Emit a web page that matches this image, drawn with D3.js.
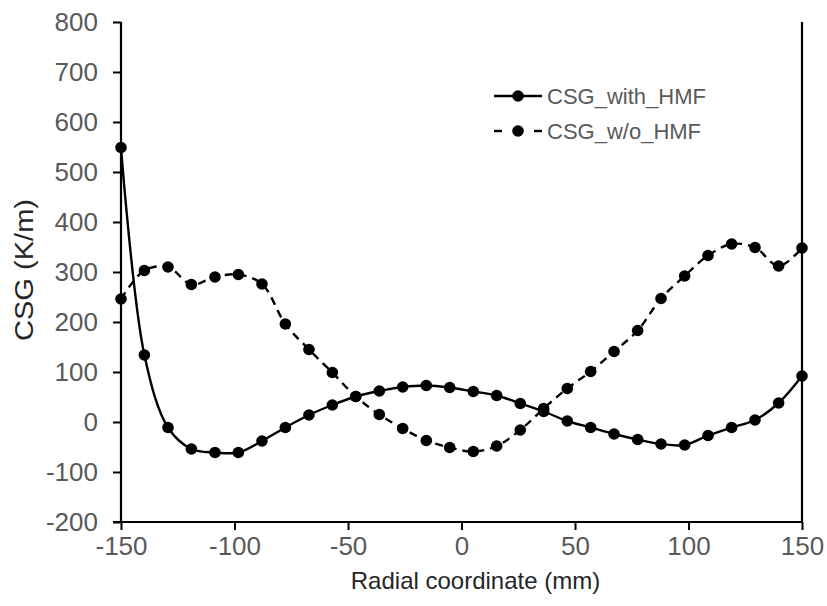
<!DOCTYPE html>
<html>
<head>
<meta charset="utf-8">
<script src="https://cdn.jsdelivr.net/npm/d3@7"></script>
<style>
  html, body { margin: 0; padding: 0; background: #fff; }
  svg { display: block; font-family: Arial, "Liberation Sans", sans-serif; }
</style>
</head>
<body>
<svg id="chart" width="827" height="606"></svg>
<script>
// Radial positions (mm)
const radial = [-150, -139.7, -129.3, -119.0, -108.6, -98.3, -87.9, -77.6, -67.2, -56.9,
                -46.6, -36.2, -25.9, -15.5, -5.2, 5.2, 15.5, 25.9, 36.2, 46.6,
                56.9, 67.2, 77.6, 87.9, 98.3, 108.6, 119.0, 129.3, 139.7, 150];

// CSG with HMF (K/m)
const csgWithHMF = [549, 134, -11, -54, -61, -61, -38, -11, 14, 34,
                    51, 62, 70, 73, 69, 61, 53, 37, 21, 2,
                    -11, -24, -35, -44, -46, -27, -11, 4, 38, 92];

// CSG without HMF (K/m)
const csgWithoutHMF = [246, 303, 310, 275, 290, 295, 276, 196, 145, 99,
                       51, 15, -13, -37, -51, -59, -48, -16, 27, 67,
                       101, 141, 183, 247, 292, 333, 356, 349, 312, 348];

const seriesNames = ["CSG_with_HMF", "CSG_w/o_HMF"];
const xTicks = [-150, -100, -50, 0, 50, 100, 150];
const yTicks = [-200, -100, 0, 100, 200, 300, 400, 500, 600, 700, 800];

const svg = d3.select("#chart");
const plotLeft = 121, plotRight = 802, plotTop = 22, plotBottom = 522;

const x = d3.scaleLinear().domain([-150, 150]).range([plotLeft, plotRight]);
const y = d3.scaleLinear().domain([-200, 800]).range([plotBottom, plotTop]);

const tickColor = "#595959";
const plainNumber = d => String(d);   // ASCII hyphen for negatives

// Y axis
const yAxis = svg.append("g")
  .attr("transform", `translate(${plotLeft},0)`)
  .call(d3.axisLeft(y).tickValues(yTicks).tickSize(8).tickPadding(15).tickFormat(plainNumber));
// X axis
const xAxis = svg.append("g")
  .attr("transform", `translate(0,${plotBottom})`)
  .call(d3.axisBottom(x).tickValues(xTicks).tickSize(8).tickPadding(7).tickFormat(plainNumber));

[yAxis, xAxis].forEach(g => {
  g.select(".domain").attr("stroke", "#000").attr("stroke-width", 2.2);
  g.selectAll(".tick line").attr("stroke", "#000").attr("stroke-width", 2);
  g.selectAll(".tick text")
    .attr("fill", tickColor)
    .style("font-size", "26px")
    .style("font-family", "Arial, 'Liberation Sans', sans-serif");
});
// plain domain lines without end stubs
yAxis.select(".domain").attr("d", `M0,${plotTop}V${plotBottom}`);
xAxis.select(".domain").attr("d", `M${plotLeft - 8},0H${plotRight}`);

// Right frame line
svg.append("line")
  .attr("x1", plotRight).attr("x2", plotRight)
  .attr("y1", plotTop).attr("y2", plotBottom)
  .attr("stroke", "#000").attr("stroke-width", 2.2);

// Axis titles
svg.append("text")
  .attr("x", (plotLeft + plotRight) / 2 + 14).attr("y", 589)
  .attr("text-anchor", "middle")
  .attr("fill", "#262626")
  .style("font-size", "24px")
  .text("Radial coordinate (mm)");

svg.append("text")
  .attr("transform", `translate(33,${(plotTop + plotBottom) / 2 - 2}) rotate(-90)`)
  .attr("text-anchor", "middle")
  .attr("fill", "#262626")
  .attr("textLength", 142)
  .attr("lengthAdjust", "spacingAndGlyphs")
  .style("font-size", "25px")
  .text("CSG (K/m)");

// Series
const line = d3.line()
  .x((d, i) => x(radial[i]))
  .y(d => y(d))
  .curve(d3.curveCatmullRom.alpha(0.5));

const series = [
  { name: seriesNames[0], values: csgWithHMF, dash: null },
  { name: seriesNames[1], values: csgWithoutHMF, dash: "8,6" }
];

series.forEach(s => {
  svg.append("path")
    .datum(s.values)
    .attr("fill", "none")
    .attr("stroke", "#000")
    .attr("stroke-width", 2.4)
    .attr("stroke-dasharray", s.dash)
    .attr("d", line);
  svg.append("g").selectAll("circle")
    .data(s.values)
    .join("circle")
    .attr("cx", (d, i) => x(radial[i]))
    .attr("cy", d => y(d))
    .attr("r", 5.8)
    .attr("fill", "#000");
});

// Legend
const legend = svg.append("g");
series.forEach((s, i) => {
  const ly = 96 + i * 35;
  const row = legend.append("g");
  if (s.dash) {
    row.append("line").attr("x1", 494).attr("x2", 502).attr("y1", ly).attr("y2", ly)
      .attr("stroke", "#000").attr("stroke-width", 2.4);
    row.append("line").attr("x1", 534).attr("x2", 542).attr("y1", ly).attr("y2", ly)
      .attr("stroke", "#000").attr("stroke-width", 2.4);
  } else {
    row.append("line").attr("x1", 494).attr("x2", 542).attr("y1", ly).attr("y2", ly)
      .attr("stroke", "#000").attr("stroke-width", 2.4);
  }
  row.append("circle").attr("cx", 518).attr("cy", ly).attr("r", 5.8).attr("fill", "#000");
  row.append("text")
    .attr("x", 547).attr("y", ly)
    .attr("dy", "0.35em")
    .attr("fill", tickColor)
    .style("font-size", "22px")
    .text(s.name);
});
</script>
</body>
</html>
